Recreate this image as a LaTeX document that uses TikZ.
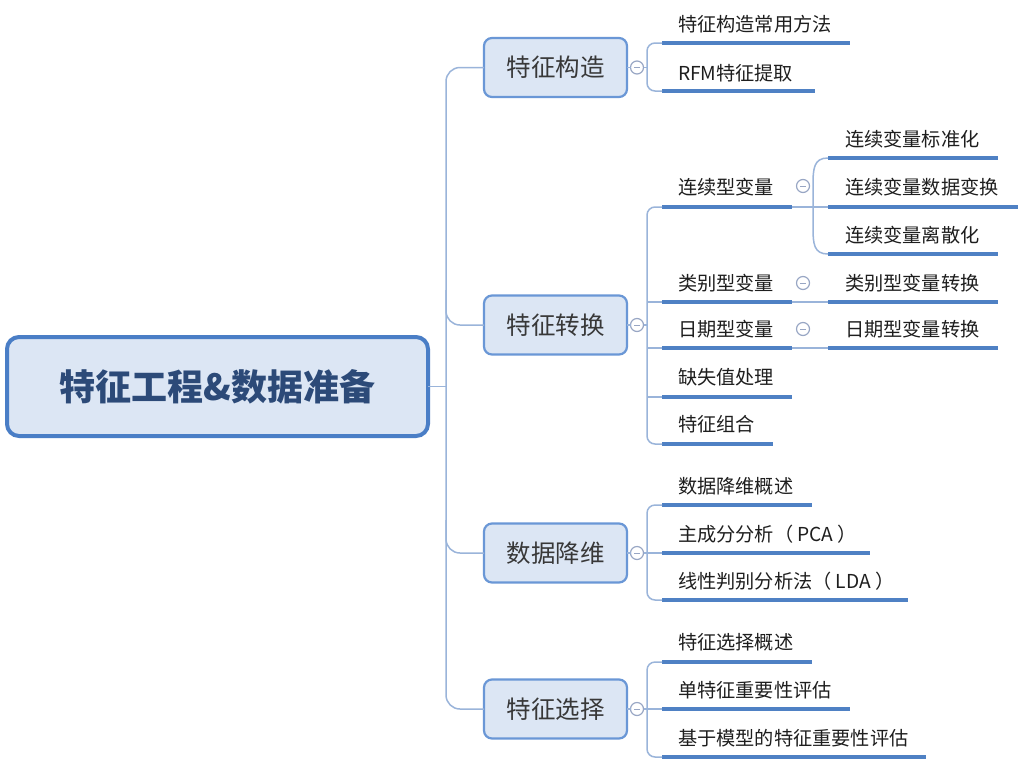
\documentclass[tikz,border=0pt]{standalone}
\usepackage{fontspec}
\setmainfont{Noto Sans CJK SC}
\begin{document}
\begin{tikzpicture}[x=1pt,y=-1pt,
  every node/.style={inner sep=0pt, outer sep=0pt},
  rootbox/.style={draw=rootblue, line width=4pt, rounded corners=12pt, fill=boxfill,
    minimum width=421pt, minimum height=99pt, text=roottext,
    font=\fontsize{36}{36}\selectfont\bfseries},
  topic/.style={draw=boxblue, line width=2.2pt, rounded corners=8pt, fill=boxfill,
    minimum width=143pt, minimum height=59pt, text=topictext,
    font=\fontsize{24.5}{24.5}\selectfont},
  leaf/.style={anchor=west, text=leaftext, font=\fontsize{19.2}{19.2}\selectfont},
  uline/.style={line width=4pt, draw=ulblue},
  conn/.style={line width=1.5pt, draw=linkblue},
  fold/.style={circle, draw=foldc, line width=1.2pt, fill=white, minimum size=13pt,
    path picture={\draw[foldc, line width=1pt] ([xshift=-3pt]path picture bounding box.center) -- ([xshift=3pt]path picture bounding box.center);}}
]
\definecolor{rootblue}{HTML}{4A7EC6}
\definecolor{boxblue}{HTML}{6A97D6}
\definecolor{boxfill}{HTML}{DCE6F4}
\definecolor{roottext}{HTML}{2C4A78}
\definecolor{topictext}{HTML}{383838}
\definecolor{leaftext}{HTML}{1E1E1E}
\definecolor{ulblue}{HTML}{4F81C4}
\definecolor{linkblue}{HTML}{9AB4DA}
\definecolor{foldc}{HTML}{98A6C4}

\useasboundingbox[fill=white] (0,0) rectangle (1024,766);

% root
\node[rootbox] (root) at (217.5,386.5) {特征工程\&数据准备};

% level 1
\node[topic] (k1) at (555.5,67.5) {特征构造};
\node[topic] (k2) at (555.5,325) {特征转换};
\node[topic] (k3) at (555.5,553) {数据降维};
\node[topic] (k4) at (555.5,709) {特征选择};

% trunk
\coordinate (tr0) at (446,386.5);
\coordinate (tr1) at (446,67.5);
\coordinate (tr4) at (446,709);
\coordinate (tr2) at (446,290);
\coordinate (tr3) at (446,520);
\draw[conn] (root.east) -- (tr0);
\draw[conn, rounded corners=14pt] (k1.west) -- (tr1) -- (tr4) -- (k4.west);
\draw[conn, rounded corners=14pt] (tr2) |- (k2.west);
\draw[conn, rounded corners=14pt] (tr3) |- (k3.west);

% fold circles level 1
\node[fold] (f1) at (637,67.5) {};
\node[fold] (f2) at (637,325) {};
\node[fold] (f3) at (637,553) {};
\node[fold] (f4) at (637,709) {};
\draw[conn] (k1.east) -- (f1.west);
\draw[conn] (k2.east) -- (f2.west);
\draw[conn] (k3.east) -- (f3.west);
\draw[conn] (k4.east) -- (f4.west);

% ---------- 特征构造 children
\node[leaf] (a1) at (678,24) {特征构造常用方法};
\node[leaf] (a2) at (678,73) {RFM特征提取};
\coordinate (a1s) at (662,43); \coordinate (a1e) at (850,43);
\coordinate (a2s) at (662,91); \coordinate (a2e) at (815,91);
\draw[uline] (a1s) -- (a1e);
\draw[uline] (a2s) -- (a2e);
\coordinate (v1) at (647,67.5);
\draw[conn] (f1.east) -- (v1);
\draw[conn, rounded corners=8pt] (a1s) -- (647,43) -- (647,91) -- (a2s);

% ---------- 特征转换 children
\node[leaf] (b1) at (678,187) {连续型变量};
\node[leaf] (b2) at (678,283) {类别型变量};
\node[leaf] (b3) at (678,329) {日期型变量};
\node[leaf] (b4) at (678,377) {缺失值处理};
\node[leaf] (b5) at (678,424) {特征组合};
\coordinate (b1s) at (662,207); \coordinate (b1e) at (792,207);
\coordinate (b2s) at (662,302); \coordinate (b2e) at (792,302);
\coordinate (b3s) at (662,348); \coordinate (b3e) at (792,348);
\coordinate (b4s) at (662,397); \coordinate (b4e) at (792,397);
\coordinate (b5s) at (662,444); \coordinate (b5e) at (773,444);
\foreach \i in {1,...,5}{\draw[uline] (b\i s) -- (b\i e);}
\coordinate (v2) at (647,325);
\draw[conn] (f2.east) -- (v2);
\draw[conn, rounded corners=8pt] (b1s) -- (647,207) -- (647,444) -- (b5s);
\draw[conn] (b2s) -- (647,302);
\draw[conn] (b3s) -- (647,348);
\draw[conn] (b4s) -- (647,397);

% fold circles level 2
\node[fold] (g1) at (803,186) {};
\node[fold] (g2) at (803,283) {};
\node[fold] (g3) at (803,329) {};

% level 3
\node[leaf] (c1) at (845,139) {连续变量标准化};
\node[leaf] (c2) at (845,187) {连续变量数据变换};
\node[leaf] (c3) at (845,235) {连续变量离散化};
\node[leaf] (c4) at (845,283) {类别型变量转换};
\node[leaf] (c5) at (845,329) {日期型变量转换};
\coordinate (c1s) at (828,158); \coordinate (c1e) at (998,158);
\coordinate (c2s) at (828,207); \coordinate (c2e) at (1018,207);
\coordinate (c3s) at (828,254); \coordinate (c3e) at (998,254);
\coordinate (c4s) at (828,302); \coordinate (c4e) at (998,302);
\coordinate (c5s) at (828,348); \coordinate (c5e) at (998,348);
\foreach \i in {1,...,5}{\draw[uline] (c\i s) -- (c\i e);}
\draw[conn] (c1s) .. controls (814,158) and (813,168) .. (813,185) -- (813,228) .. controls (813,244) and (814,254) .. (c3s);
\draw[conn] (b1e) -- (c2s);
\draw[conn] (b2e) -- (c4s);
\draw[conn] (b3e) -- (c5s);

% ---------- 数据降维 children
\node[leaf] (d1) at (678,486) {数据降维概述};
\node[leaf] (d2) at (678,534) {主成分分析（ PCA ）};
\node[leaf] (d3) at (678,581) {线性判别分析法（ LDA ）};
\coordinate (d1s) at (662,505); \coordinate (d1e) at (812,505);
\coordinate (d2s) at (662,553); \coordinate (d2e) at (870,553);
\coordinate (d3s) at (662,600); \coordinate (d3e) at (908,600);
\foreach \i in {1,2,3}{\draw[uline] (d\i s) -- (d\i e);}
\draw[conn] (f3.east) -- (d2s);
\draw[conn, rounded corners=8pt] (d1s) -- (647,505) -- (647,600) -- (d3s);

% ---------- 特征选择 children
\node[leaf] (e1) at (678,642) {特征选择概述};
\node[leaf] (e2) at (678,690) {单特征重要性评估};
\node[leaf] (e3) at (678,738) {基于模型的特征重要性评估};
\coordinate (e1s) at (662,662); \coordinate (e1e) at (812,662);
\coordinate (e2s) at (662,709); \coordinate (e2e) at (850,709);
\coordinate (e3s) at (662,757); \coordinate (e3e) at (926,757);
\foreach \i in {1,2,3}{\draw[uline] (e\i s) -- (e\i e);}
\draw[conn] (f4.east) -- (e2s);
\draw[conn, rounded corners=8pt] (e1s) -- (647,662) -- (647,757) -- (e3s);
\end{tikzpicture}
\end{document}
